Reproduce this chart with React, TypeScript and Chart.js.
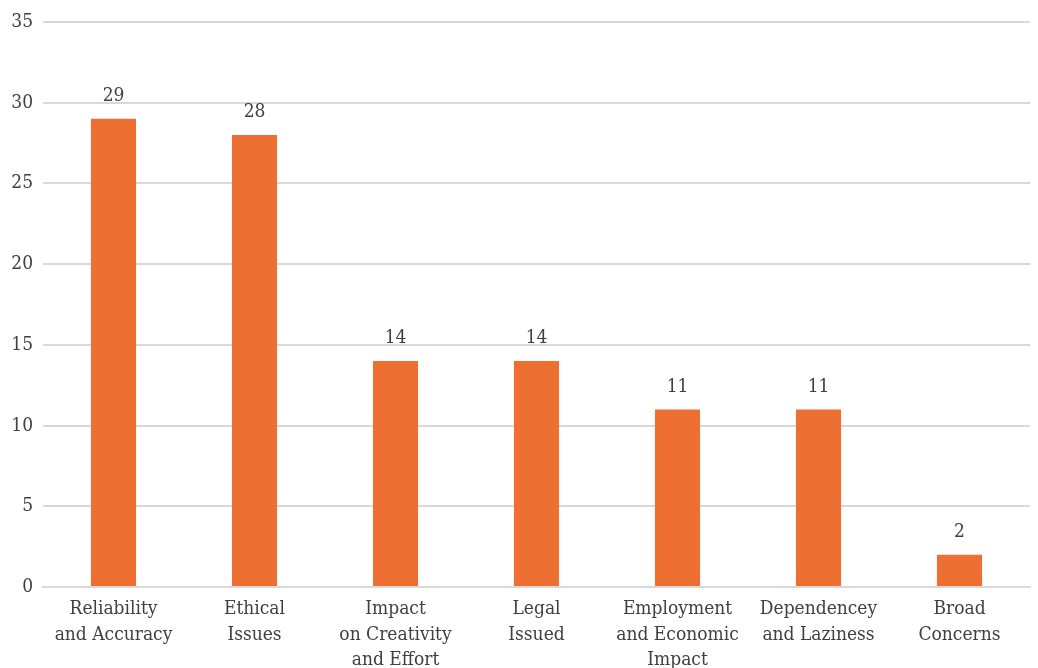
import React, { useEffect, useRef } from "react";
import { Chart, registerables } from "chart.js";

Chart.register(...registerables);

const categories: string[][] = [
  ["Reliability", "and Accuracy"],
  ["Ethical", "Issues"],
  ["Impact", "on Creativity", "and Effort"],
  ["Legal", "Issued"],
  ["Employment", "and Economic", "Impact"],
  ["Dependencey", "and Laziness"],
  ["Broad", "Concerns"],
];
const values: number[] = [29, 28, 14, 14, 11, 11, 2];
const yTicks: number[] = [0, 5, 10, 15, 20, 25, 30, 35];

const FONT = "'DejaVu Serif Condensed', 'DejaVu Serif', serif";
const TEXT = "#404040";

const dataLabels = {
  id: "dataLabels",
  afterDatasetsDraw(chart: any) {
    const ctx = chart.ctx;
    const meta = chart.getDatasetMeta(0);
    ctx.save();
    ctx.font = `19px ${FONT}`;
    ctx.fillStyle = TEXT;
    ctx.textAlign = "center";
    ctx.textBaseline = "bottom";
    meta.data.forEach((el: any, i: number) => {
      ctx.fillText(String(chart.data.datasets[0].data[i]), el.x, el.y - 13);
    });
    ctx.restore();
  },
};

export default function App() {
  const ref = useRef<HTMLCanvasElement>(null);
  useEffect(() => {
    document.body.style.margin = "0";
    const chart = new Chart(ref.current!, {
      type: "bar",
      data: {
        labels: categories,
        datasets: [
          {
            data: values,
            backgroundColor: "#ED7032",
            categoryPercentage: 1,
            barPercentage: 0.32,
          },
        ],
      },
      options: {
        animation: false,
        responsive: false,
        layout: { padding: { top: 22, right: 8, left: 0, bottom: 0 } },
        plugins: { legend: { display: false }, tooltip: { enabled: false } },
        scales: {
          x: {
            grid: { display: false, drawTicks: false },
            border: { color: "#d9d9d9", width: 2 },
            ticks: {
              font: { family: FONT, size: 19, lineHeight: 1.32 },
              color: TEXT,
              padding: 10,
              maxRotation: 0,
              autoSkip: false,
            },
            afterFit: (s: any) => {
              s.height = 81;
            },
          },
          y: {
            min: 0,
            max: 35,
            afterBuildTicks: (s: any) => {
              s.ticks = yTicks.map((v) => ({ value: v }));
            },
            grid: { color: "#d9d9d9", lineWidth: 2, drawTicks: false },
            border: { display: false },
            ticks: {
              font: { family: FONT, size: 19 },
              color: TEXT,
              padding: 10,
            },
            afterFit: (s: any) => {
              s.width = 43;
            },
          },
        },
      },
      plugins: [dataLabels],
    });
    return () => chart.destroy();
  }, []);
  return (
    <div style={{ position: "absolute", left: 0, top: 0, width: 1038, height: 668 }}>
      <canvas ref={ref} width={1038} height={668} />
    </div>
  );
}
